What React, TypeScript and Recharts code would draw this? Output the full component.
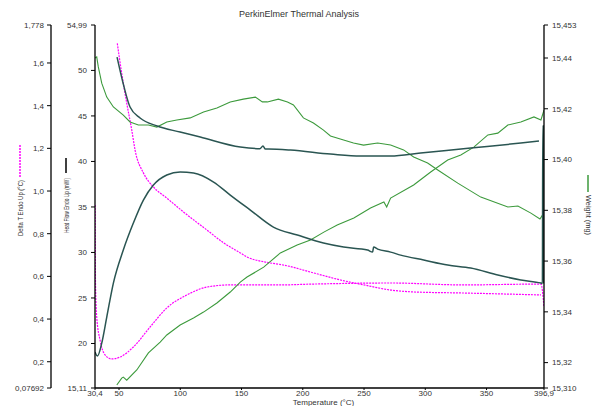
import React from 'react'
import { LineChart, Line, XAxis, YAxis } from 'recharts'

const title = 'PerkinElmer Thermal Analysis'
const xTitle = 'Temperature (°C)'
const deltaTTitle = 'Delta T Endo Up (°C)'
const heatFlowTitle = 'Heat Flow Endo Up (mW)'
const weightTitle = 'Weight (mg)'

// tick values and the labels printed for them (comma decimals as in the original)
const tempTicks = [30.4, 50, 100, 150, 200, 250, 300, 350, 396.9]
const tempTickLabels = ['30,4', '50', '100', '150', '200', '250', '300', '350', '396,9']
const deltaTTicks = [0.07692, 0.2, 0.4, 0.6, 0.8, 1.0, 1.2, 1.4, 1.6, 1.778]
const deltaTTickLabels = ['0,07692', '0,2', '0,4', '0,6', '0,8', '1,0', '1,2', '1,4', '1,6', '1,778']
const heatFlowTicks = [15.11, 20, 25, 30, 35, 40, 45, 50, 54.99]
const heatFlowTickLabels = ['15,11', '20', '25', '30', '35', '40', '45', '50', '54,99']
const weightTicks = [15.31, 15.32, 15.34, 15.36, 15.38, 15.4, 15.42, 15.44, 15.453]
const weightTickLabels = ['15,310', '15,32', '15,34', '15,36', '15,38', '15,40', '15,42', '15,44', '15,453']

// heat flow, upper branch
const hfUpperTemp = [48.4, 53.3, 59.0, 67.2, 81.1, 99.9, 116.3, 149.0, 165.0, 167.5, 169.5, 172.0, 189.9, 222.6, 247.2, 271.7, 296.2, 337.1, 378.0, 392.8]
const hfUpper = [51.47, 48.62, 45.98, 44.77, 43.89, 43.23, 42.68, 41.58, 41.4, 41.69, 41.36, 41.36, 41.25, 40.81, 40.59, 40.59, 40.92, 41.47, 42.02, 42.24]

// heat flow, lower branch (peak near 100 °C)
const hfLowerTemp = [30.4, 32.4, 35.9, 40.0, 45.4, 53.5, 61.7, 69.9, 78.1, 89.0, 99.9, 110.8, 127.2, 140.8, 157.2, 176.0, 195.6, 216.9, 233.3, 252.9, 257.0, 257.8, 261.1, 271.7, 279.9, 298.7, 318.3, 337.1, 359.2, 378.0, 394.4, 395.6, 395.9, 396.3, 396.5]
const hfLower = [19.06, 18.62, 20.04, 22.9, 26.64, 30.27, 33.23, 35.76, 37.41, 38.51, 38.84, 38.73, 37.74, 36.31, 34.66, 32.79, 31.91, 31.03, 30.59, 30.26, 30.04, 30.59, 30.37, 30.04, 29.71, 29.17, 28.62, 28.29, 27.52, 26.97, 26.64, 26.6, 43.9, 43.9, 26.6]

// delta T, falling branch
const dtUpperTemp = [48.6, 52.2, 56.3, 60.4, 63.1, 69.9, 78.1, 89.0, 102.6, 121.8, 135.4, 149.0, 154.5, 169.5, 184.4, 209.0, 230.8, 249.9, 271.7, 290.8, 331.7, 394.4]
const dtUpper = [1.692, 1.552, 1.412, 1.286, 1.192, 1.085, 1.019, 0.967, 0.902, 0.817, 0.757, 0.71, 0.691, 0.667, 0.653, 0.616, 0.583, 0.56, 0.536, 0.527, 0.522, 0.513]

// delta T, dip then plateau
const dtLowerTemp = [30.5, 30.8, 31.8, 34.5, 38.6, 44.1, 50.9, 61.7, 75.4, 89.0, 105.4, 121.8, 140.8, 181.7, 208.7, 271.7, 331.4, 394.4, 396.9]
const dtLower = [0.935, 0.569, 0.41, 0.302, 0.232, 0.213, 0.222, 0.269, 0.363, 0.452, 0.513, 0.55, 0.56, 0.56, 0.564, 0.569, 0.56, 0.564, 0.457]

// weight, branch starting top left
const wUpperTemp = [30.4, 31.8, 33.1, 35.9, 40.0, 45.4, 53.5, 59.0, 65.8, 74.0, 80.9, 89.0, 97.2, 108.1, 119.0, 129.9, 140.8, 151.5, 161.3, 167.0, 171.1, 180.1, 187.5, 192.4, 200.5, 208.7, 216.9, 222.6, 233.3, 241.4, 249.6, 261.1, 271.7, 282.3, 290.5, 301.9, 310.2, 326.5, 345.3, 367.4, 375.6, 386.2, 393.6, 395.8]
const wUpper = [15.44, 15.4404, 15.4365, 15.4301, 15.4246, 15.4207, 15.4175, 15.4148, 15.4136, 15.4136, 15.4128, 15.4148, 15.4156, 15.4164, 15.4187, 15.4203, 15.4227, 15.4238, 15.4246, 15.4227, 15.4227, 15.4238, 15.4227, 15.4215, 15.4164, 15.4144, 15.4116, 15.4093, 15.4077, 15.4065, 15.4057, 15.4065, 15.4057, 15.4038, 15.401, 15.3986, 15.3959, 15.3907, 15.3852, 15.3813, 15.3817, 15.3789, 15.3766, 15.3782]

// weight, rising branch
const wLowerTemp = [48.2, 52.2, 53.5, 56.3, 64.5, 74.0, 83.6, 89.0, 99.9, 110.8, 119.0, 129.9, 140.8, 149.0, 154.5, 168.1, 181.7, 195.4, 206.3, 217.2, 228.1, 241.7, 255.3, 266.2, 268.5, 271.7, 290.5, 304.4, 318.3, 329.0, 339.6, 351.1, 359.2, 367.4, 378.0, 388.7, 394.4, 396.9]
const wLower = [15.3112, 15.3139, 15.3143, 15.3131, 15.3171, 15.3238, 15.3281, 15.3309, 15.3348, 15.3376, 15.3399, 15.3435, 15.3478, 15.3517, 15.3537, 15.3576, 15.3632, 15.3663, 15.3683, 15.3714, 15.3742, 15.377, 15.3809, 15.3833, 15.3813, 15.3848, 15.39, 15.3951, 15.3998, 15.4018, 15.4049, 15.4097, 15.4104, 15.4136, 15.4148, 15.4168, 15.4156, 15.4195]

const toPoints = (ts: number[], vs: number[]) => ts.map((t, i) => ({ t, v: vs[i] }))

const labelFor = (ticks: number[], labels: string[]) => (v: number) => {
  const i = ticks.findIndex((t) => Math.abs(t - v) < 1e-6)
  return i >= 0 ? labels[i] : String(v)
}

const FONT = '"Liberation Sans", Arial, sans-serif'
const TEXT = '#333'
const TEAL = '#2a5552'
const GREEN = '#3c9a3c'
const MAGENTA = '#ff00ff'

// axis ids: the heat flow axis must sit next to the plot, delta T outside it
const HF = 'a-heatflow'
const DT = 'b-deltat'
const W = 'c-weight'

const tickStyle = { fontSize: 8, fill: TEXT, fontFamily: FONT }

// rotated axis title with a short line key above it
const SideTitle = (props: any) => {
  const { viewBox, dx, text, color, dash, keyTop, keyBottom, textTop, textBottom, flip, width } = props
  const x = (viewBox ? viewBox.x : 0) + dx
  const cy = (textTop + textBottom) / 2
  return (
    <g>
      <line x1={x} x2={x} y1={keyTop} y2={keyBottom} stroke={color} strokeWidth={width} strokeDasharray={dash} />
      <text
        x={x}
        y={cy}
        transform={`rotate(${flip ? 90 : -90} ${x} ${cy})`}
        textAnchor="middle"
        dominantBaseline="central"
        fontSize={7}
        fill={TEXT}
        fontFamily={FONT}
        textLength={textBottom - textTop}
        lengthAdjust="spacingAndGlyphs"
      >
        {text}
      </text>
    </g>
  )
}

const XTitle = (props: any) => {
  const { viewBox } = props
  const cx = viewBox ? viewBox.x + viewBox.width / 2 : 300
  return (
    <text x={cx + 4} y={404.5} textAnchor="middle" fontSize={8} fill={TEXT} fontFamily={FONT}>
      {xTitle}
    </text>
  )
}

export default function App() {
  return (
    <div style={{ position: 'absolute', left: 0, top: 0, width: 593, height: 406, background: '#fff' }}>
      <div
        style={{
          position: 'absolute',
          top: 9,
          left: 0,
          width: 598,
          textAlign: 'center',
          fontSize: 9,
          color: TEXT,
          fontFamily: FONT,
        }}
      >
        {title}
      </div>
      <LineChart width={593} height={406} margin={{ top: 25, right: 0, bottom: 0, left: 7 }}>
        <XAxis
          type="number"
          dataKey="t"
          domain={[30.4, 396.9]}
          ticks={tempTicks}
          tickFormatter={labelFor(tempTicks, tempTickLabels)}
          allowDataOverflow
          height={18}
          tick={tickStyle}
          tickSize={2}
          tickMargin={0}
          interval={0}
          axisLine={{ stroke: '#000', strokeWidth: 1.3 }}
          tickLine={{ stroke: '#000' }}
          label={<XTitle />}
        />
        <YAxis
          yAxisId={HF}
          orientation="left"
          width={44}
          domain={[15.11, 54.99]}
          ticks={heatFlowTicks}
          tickFormatter={labelFor(heatFlowTicks, heatFlowTickLabels)}
          allowDataOverflow
          interval={0}
          tick={tickStyle}
          tickSize={4}
          tickMargin={4}
          axisLine={{ stroke: '#000', strokeWidth: 1.3 }}
          tickLine={{ stroke: '#000' }}
          label={
            <SideTitle dx={15} text={heatFlowTitle} color="#000" width={1.5} keyTop={158} keyBottom={173} textTop={178} textBottom={233} />
          }
        />
        <YAxis
          yAxisId={DT}
          orientation="left"
          width={44}
          domain={[0.07692, 1.778]}
          ticks={deltaTTicks}
          tickFormatter={labelFor(deltaTTicks, deltaTTickLabels)}
          allowDataOverflow
          interval={0}
          tick={tickStyle}
          tickSize={4}
          tickMargin={3}
          axisLine={{ stroke: '#000', strokeWidth: 1.3 }}
          tickLine={{ stroke: '#000' }}
          label={
            <SideTitle dx={13} text={deltaTTitle} color={MAGENTA} dash="2 1" width={1.5} keyTop={145} keyBottom={177} textTop={180} textBottom={236} />
          }
        />
        <YAxis
          yAxisId={W}
          orientation="right"
          width={49}
          domain={[15.31, 15.453]}
          ticks={weightTicks}
          tickFormatter={labelFor(weightTicks, weightTickLabels)}
          allowDataOverflow
          interval={0}
          tick={tickStyle}
          tickSize={4}
          tickMargin={4}
          axisLine={{ stroke: '#000', strokeWidth: 1.3 }}
          tickLine={{ stroke: '#000' }}
          label={
            <SideTitle dx={44} flip text={weightTitle} color={GREEN} width={1.5} keyTop={175} keyBottom={192} textTop={195} textBottom={235} />
          }
        />

        <Line yAxisId={DT} data={toPoints(dtUpperTemp, dtUpper)} dataKey="v" type="monotone" stroke={MAGENTA} strokeWidth={1.2} strokeDasharray="2 1" dot={false} isAnimationActive={false} />
        <Line yAxisId={DT} data={toPoints(dtLowerTemp, dtLower)} dataKey="v" type="monotone" stroke={MAGENTA} strokeWidth={1.2} strokeDasharray="2 1" dot={false} isAnimationActive={false} />
        <Line yAxisId={W} data={toPoints(wUpperTemp, wUpper)} dataKey="v" type="linear" stroke={GREEN} strokeWidth={1.1} dot={false} isAnimationActive={false} />
        <Line yAxisId={W} data={toPoints(wLowerTemp, wLower)} dataKey="v" type="linear" stroke={GREEN} strokeWidth={1.1} dot={false} isAnimationActive={false} />
        <Line yAxisId={HF} data={toPoints(hfUpperTemp, hfUpper)} dataKey="v" type="monotone" stroke={TEAL} strokeWidth={1.5} dot={false} isAnimationActive={false} />
        <Line yAxisId={HF} data={toPoints(hfLowerTemp, hfLower)} dataKey="v" type="monotone" stroke={TEAL} strokeWidth={1.5} dot={false} isAnimationActive={false} />
      </LineChart>
    </div>
  )
}
